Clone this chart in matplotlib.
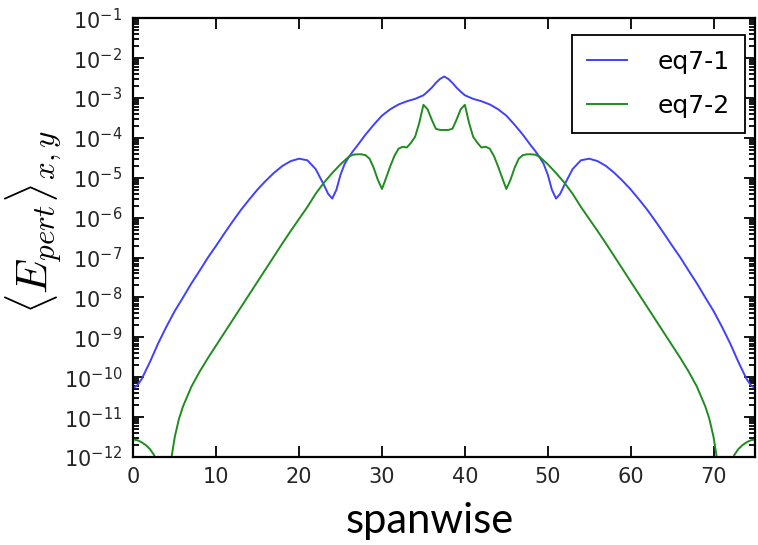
import numpy as np
import matplotlib
matplotlib.use("Agg")
import matplotlib.pyplot as plt
from matplotlib.ticker import LogLocator

# ---- data (log10 of <E_pert>_{x,y}) ----
blue_x = [0, 0.5, 1, 2, 3, 4, 5, 6, 7, 8, 9, 10, 11, 12, 13, 14, 15, 16, 17, 18,
          19, 20, 21, 22, 23, 23.5, 24, 24.5, 25, 25.5, 26, 26.5, 27, 28, 29, 30,
          31, 32, 33, 34, 35, 35.5, 36, 36.5, 37, 37.5,
          38, 38.5, 39, 39.5, 40, 41, 42, 43, 44, 45, 46, 47, 48, 48.5, 49, 49.5,
          50, 50.5, 51, 51.5, 52, 53, 54, 55, 56, 57, 58, 59, 60, 61, 62, 63, 64,
          65, 66, 67, 68, 69, 70, 71, 72, 73, 74, 74.5, 75]
blue_log10 = [-10.27, -10.20, -10.05, -9.62, -9.15, -8.73, -8.34, -8.00, -7.65, -7.33,
              -7.00, -6.70, -6.39, -6.09, -5.80, -5.54, -5.29, -5.07, -4.87, -4.70,
              -4.58, -4.52, -4.56, -4.78, -5.18, -5.40, -5.52, -5.30, -4.92, -4.65,
              -4.48, -4.33, -4.20, -3.92, -3.67, -3.44, -3.28, -3.16, -3.08, -3.02,
              -2.93, -2.84, -2.74, -2.62, -2.52, -2.46,
              -2.52, -2.62, -2.74, -2.84, -2.93, -3.02, -3.08, -3.16, -3.28, -3.44,
              -3.67, -3.92, -4.20, -4.33, -4.48, -4.65, -4.92, -5.30, -5.52, -5.40,
              -5.18, -4.78, -4.56, -4.52, -4.58, -4.70, -4.87, -5.07, -5.29, -5.54,
              -5.80, -6.09, -6.39, -6.70, -7.00, -7.33, -7.65, -8.00, -8.34, -8.73,
              -9.15, -9.62, -10.05, -10.20, -10.27]

green_x = [0, 0.5, 1, 1.5, 2, 2.5, 3, 3.5, 4, 4.5, 5, 5.5, 6, 7, 8, 9, 10, 11, 12,
           13, 14, 15, 16, 17, 18, 19, 20, 21, 22, 23, 24, 25, 26, 26.5, 27, 27.5,
           28, 28.5, 29, 29.5, 30, 30.5, 31, 31.5, 32, 32.5, 33, 33.5, 34, 34.5,
           35, 35.5, 36, 36.5, 37, 37.5,
           38, 38.5, 39, 39.5, 40, 40.5, 41, 41.5, 42, 42.5, 43, 43.5, 44, 44.5,
           45, 45.5, 46, 46.5, 47, 47.5, 48, 48.5, 49, 50, 51, 52, 53, 54, 55, 56,
           57, 58, 59, 60, 61, 62, 63, 64, 65, 66, 67, 68, 69, 69.5, 70, 70.5, 71,
           71.5, 72, 72.5, 73, 73.5, 74, 74.5, 75]
green_log10 = [-11.56, -11.58, -11.63, -11.70, -11.80, -11.95, -12.25, -12.90, -13.00,
               -12.15, -11.50, -11.05, -10.73, -10.24, -9.86, -9.52, -9.20, -8.88,
               -8.56, -8.24, -7.92, -7.60, -7.28, -6.96, -6.64, -6.33, -6.03, -5.73,
               -5.40, -5.12, -4.88, -4.66, -4.47, -4.42, -4.41, -4.41, -4.43, -4.52,
               -4.75, -5.05, -5.28, -5.00, -4.71, -4.45, -4.27, -4.22, -4.24, -4.12,
               -3.97, -3.62, -3.17, -3.28, -3.54, -3.77, -3.80, -3.80,
               -3.80, -3.77, -3.54, -3.28, -3.17, -3.62, -3.97, -4.12, -4.24, -4.22,
               -4.27, -4.45, -4.71, -5.00, -5.28, -5.05, -4.75, -4.52, -4.43, -4.41,
               -4.41, -4.42, -4.47, -4.66, -4.88, -5.12, -5.40, -5.73, -6.03, -6.33,
               -6.64, -6.96, -7.28, -7.60, -7.92, -8.24, -8.56, -8.88, -9.20, -9.52,
               -9.86, -10.24, -10.73, -11.05, -11.50, -12.15, -13.00, -12.90, -12.25,
               -11.95, -11.80, -11.70, -11.63, -11.58, -11.56]

series_labels = ["eq7-1", "eq7-2"]
x_ticks = [0, 10, 20, 30, 40, 50, 60, 70]

blue_y = np.power(10.0, blue_log10)
green_y = np.power(10.0, green_log10)

W, H = 758, 545
fig = plt.figure(figsize=(W / 100, H / 100), dpi=100)
ax = fig.add_axes([133.3 / W, 1 - 457 / H, (755 - 133.3) / W, (457 - 18.3) / H])

ax.plot(blue_x, blue_y, color=(0.25, 0.25, 1.0), lw=1.4, label=series_labels[0])
ax.plot(green_x, green_y, color=(0.12, 0.55, 0.12), lw=1.4, label=series_labels[1])

ax.set_yscale("log")
ax.set_xlim(0, 75)
ax.set_ylim(1e-12, 1e-1)
ax.set_xticks(x_ticks)
ax.yaxis.set_major_locator(LogLocator(base=10, numticks=20))
ax.yaxis.set_minor_locator(LogLocator(base=10, subs=np.arange(2, 10), numticks=20))

for s in ax.spines.values():
    s.set_linewidth(1.6)
    s.set_color("black")

ax.tick_params(which="both", direction="in", top=True, right=True,
               labelsize=15, labelcolor="#262626", width=1.3)
ax.tick_params(which="major", length=8, pad=7)
ax.tick_params(which="minor", length=4)
ax.tick_params(axis="y", which="major", pad=8)

ax.set_ylabel(r"$\langle E_{pert}\rangle_{x,y}$", fontsize=32,
              math_fontfamily="cm")
ax.yaxis.set_label_coords(-0.112, 0.535)

fig.text(430 / W, 1 - 521 / H, "spanwise", fontsize=30,
         family="Lato", ha="center", va="center", color="black")

leg = ax.legend(loc="upper right", bbox_to_anchor=(745 / W, 1 - 35 / H),
                bbox_transform=fig.transFigure, borderaxespad=0,
                fontsize=18, handlelength=1.6, handletextpad=1.25,
                labelspacing=0.8, borderpad=0.6, fancybox=False,
                edgecolor="black", framealpha=1)
leg.get_frame().set_linewidth(1.3)

fig.savefig("out.png", dpi=100)
